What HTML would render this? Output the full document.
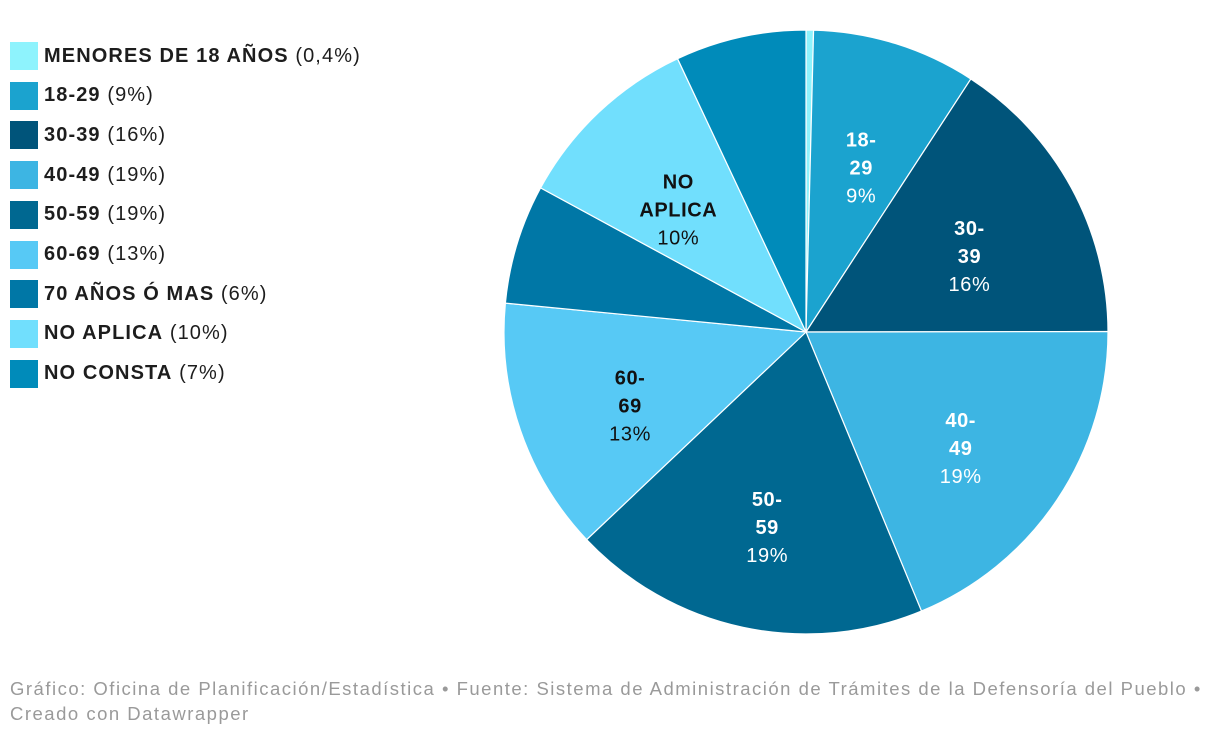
<!DOCTYPE html>
<html><head><meta charset="utf-8"><style>
body{margin:0;width:1220px;height:736px;background:#fff;font-family:"Liberation Sans",sans-serif;overflow:hidden;position:relative}
.leg{position:absolute;left:10px;height:28px;display:flex;align-items:center;font-size:20px;color:#1d1d1d;letter-spacing:1.1px;white-space:nowrap}
.sw{width:28px;height:28px;margin-right:6px}
.foot{position:absolute;left:10px;font-size:18.5px;color:#9a9a9a;line-height:25px;letter-spacing:1.5px;white-space:nowrap}
</style></head><body>
<div id="legend"></div>
<svg id="pie" width="1220" height="736" style="position:absolute;left:0;top:0"></svg>
<div class="foot" style="top:676px">Gráfico: Oficina de Planificación/Estadística • Fuente: Sistema de Administración de Trámites de la Defensoría del Pueblo •<br>Creado con Datawrapper</div>
<script>
const categories=["MENORES DE 18 AÑOS","18-29","30-39","40-49","50-59","60-69","70 AÑOS Ó MAS","NO APLICA","NO CONSTA"];
const values=[0.4,8.8,15.8,18.8,19.2,13.6,6.4,10.1,7.0];
const labels=["0,4%","9%","16%","19%","19%","13%","6%","10%","7%"];
const colors=["#8ef3fd","#1ba3cf","#00547a","#3db5e3","#006891","#57c9f5","#0077a6","#71dffd","#008bba"];
const inside=[false,true,true,true,true,true,false,true,false];
const darkText=[false,false,false,false,false,true,false,true,false];
const leg=document.getElementById('legend');
categories.forEach((c,i)=>{
 const d=document.createElement('div');d.className='leg';d.style.top=(42+i*39.7)+'px';
 
 
 d.innerHTML='<div class="sw" style="background:'+colors[i]+'"></div><b>'+c+'</b>&nbsp;('+labels[i]+')';
 leg.appendChild(d);
});
const svg=document.getElementById('pie');const NS='http://www.w3.org/2000/svg';
const cx=806,cy=332,r=302,total=values.reduce((a,b)=>a+b,0);
const pt=(a,rr)=>[cx+rr*Math.sin(a),cy-rr*Math.cos(a)];
let acc=0;
values.forEach((v,i)=>{
 const a0=acc/total*2*Math.PI;acc+=v;const a1=acc/total*2*Math.PI;
 const p0=pt(a0,r),p1=pt(a1,r);
 const p=document.createElementNS(NS,'path');
 p.setAttribute('d',`M${cx},${cy}L${p0[0]},${p0[1]}A${r},${r} 0 ${a1-a0>Math.PI?1:0} 1 ${p1[0]},${p1[1]}Z`);
 p.setAttribute('fill',colors[i]);p.setAttribute('stroke','#fff');p.setAttribute('stroke-width','1.2');
 
 
 svg.appendChild(p);
 if(inside[i]){
  const m=(a0+a1)/2,c=pt(m,186);
  const t=document.createElementNS(NS,'text');
  t.setAttribute('x',c[0]);t.setAttribute('y',c[1]-8);t.setAttribute('text-anchor','middle');
  t.setAttribute('font-size','20');t.setAttribute('letter-spacing','0.6');t.setAttribute('fill',darkText[i]?'#111':'#fff');
  
  
  const parts=categories[i].includes('-')?[categories[i].split('-')[0]+'-',categories[i].split('-')[1]]:categories[i].split(' ');
  parts.forEach((s,k)=>{const ts=document.createElementNS(NS,'tspan');ts.setAttribute('x',c[0]);ts.setAttribute('dy',k?28:0);ts.setAttribute('font-weight','bold');ts.textContent=s;t.appendChild(ts);});
  const ts=document.createElementNS(NS,'tspan');ts.setAttribute('x',c[0]);ts.setAttribute('dy',28);ts.textContent=labels[i];t.appendChild(ts);
  svg.appendChild(t);
 }
});
</script>
</body></html>
